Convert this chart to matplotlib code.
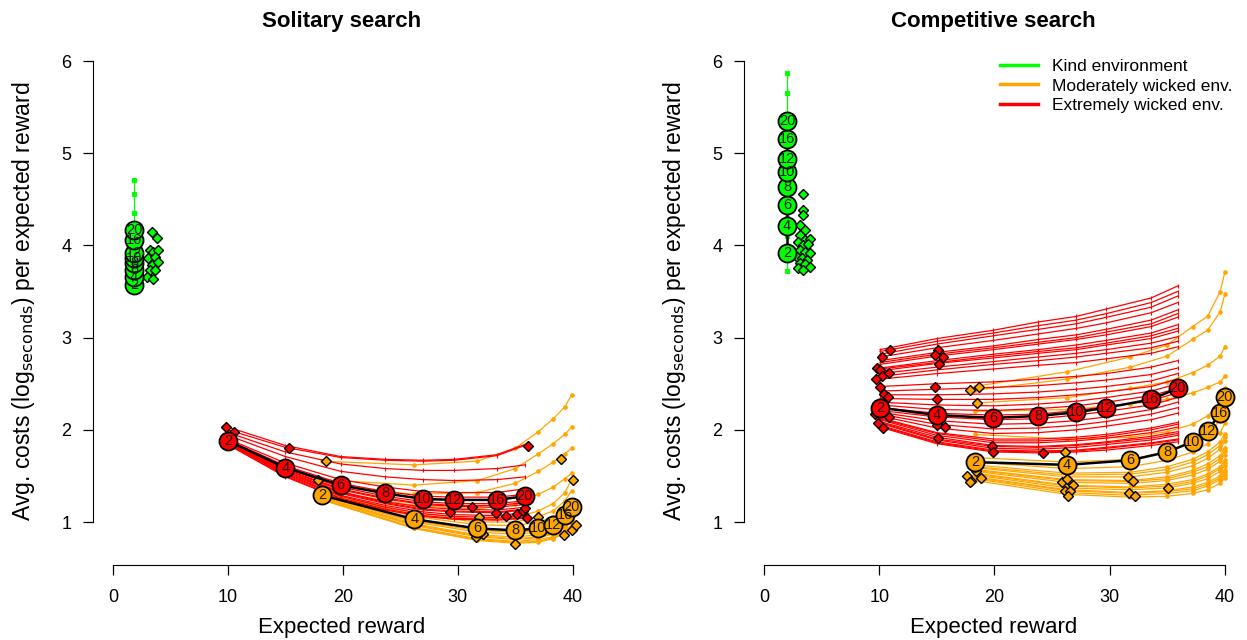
import matplotlib
matplotlib.use("Agg")
import matplotlib.pyplot as plt
from matplotlib.lines import Line2D

plt.rcParams['font.family'] = ['Liberation Sans', 'DejaVu Sans']

# ---------------- data ----------------
sample_sizes = [2, 4, 6, 8, 10, 12, 16, 20]

# Solitary search: mean curves (expected reward, avg cost)
solo_kind_x = [1.83] * 8
solo_kind_y = [3.57, 3.66, 3.73, 3.81, 3.86, 3.92, 4.06, 4.17]
solo_mod_x = [18.2, 26.2, 31.7, 35.0, 37.0, 38.3, 39.3, 39.9]
solo_mod_y = [1.29, 1.03, 0.93, 0.91, 0.93, 0.97, 1.08, 1.16]
solo_ext_x = [10.0, 15.0, 19.8, 23.7, 27.0, 29.7, 33.4, 35.8]
solo_ext_y = [1.88, 1.59, 1.40, 1.31, 1.25, 1.24, 1.24, 1.28]

# Competitive search: mean curves
comp_kind_x = [2.0] * 8
comp_kind_y = [3.92, 4.21, 4.44, 4.63, 4.80, 4.94, 5.15, 5.35]
comp_mod_x = [18.3, 26.3, 31.8, 35.0, 37.2, 38.5, 39.6, 40.0]
comp_mod_y = [1.65, 1.62, 1.67, 1.76, 1.87, 1.99, 2.18, 2.36]
comp_ext_x = [10.07, 15.0, 19.9, 23.8, 27.1, 29.7, 33.6, 35.9]
comp_ext_y = [2.24, 2.16, 2.13, 2.15, 2.19, 2.24, 2.33, 2.45]

# Individual curves (costs at each sample size)
solo_kind_lines = [
    [3.60, 3.75, 3.88, 4.00, 4.12, 4.35, 4.56, 4.71],
    [3.55, 3.62, 3.70, 3.78, 3.85, 3.92, 4.05, 4.18],
    [3.52, 3.58, 3.64, 3.70, 3.76, 3.82, 3.92, 4.02],
]
solo_ext_lines = [
    [2.03, 1.83, 1.71, 1.68, 1.67, 1.68, 1.73, 1.84],
    [2.00, 1.81, 1.70, 1.67, 1.66, 1.67, 1.72, 1.83],
    [1.97, 1.76, 1.63, 1.58, 1.56, 1.56, 1.58, 1.62],
    [1.94, 1.71, 1.55, 1.49, 1.46, 1.45, 1.46, 1.49],
    [1.90, 1.64, 1.46, 1.38, 1.33, 1.32, 1.32, 1.36],
    [1.89, 1.61, 1.42, 1.33, 1.28, 1.27, 1.27, 1.30],
    [1.88, 1.58, 1.38, 1.28, 1.22, 1.20, 1.20, 1.23],
    [1.87, 1.57, 1.36, 1.26, 1.20, 1.18, 1.18, 1.21],
    [1.87, 1.56, 1.35, 1.25, 1.19, 1.17, 1.16, 1.19],
    [1.86, 1.55, 1.33, 1.22, 1.16, 1.14, 1.13, 1.16],
    [1.86, 1.54, 1.32, 1.21, 1.14, 1.12, 1.11, 1.14],
    [1.86, 1.53, 1.31, 1.20, 1.13, 1.11, 1.10, 1.13],
    [1.85, 1.52, 1.29, 1.18, 1.11, 1.08, 1.07, 1.10],
    [1.85, 1.51, 1.28, 1.16, 1.09, 1.06, 1.05, 1.07],
    [1.84, 1.50, 1.26, 1.14, 1.07, 1.04, 1.03, 1.05],
    [1.84, 1.49, 1.25, 1.13, 1.06, 1.03, 1.02, 1.04],
]
solo_mod_lines = [
    [1.66, 1.62, 1.66, 1.80, 1.98, 2.12, 2.25, 2.38],
    [1.46, 1.40, 1.45, 1.58, 1.74, 1.85, 1.95, 2.03],
    [1.40, 1.30, 1.32, 1.42, 1.55, 1.65, 1.74, 1.80],
    [1.35, 1.18, 1.14, 1.20, 1.30, 1.38, 1.47, 1.53],
    [1.32, 1.10, 1.03, 1.05, 1.12, 1.20, 1.32, 1.46],
    [1.31, 1.08, 1.00, 1.00, 1.06, 1.12, 1.23, 1.34],
    [1.30, 1.06, 0.97, 0.96, 1.00, 1.05, 1.14, 1.22],
    [1.29, 1.03, 0.93, 0.91, 0.93, 0.97, 1.06, 1.14],
    [1.28, 1.01, 0.91, 0.89, 0.91, 0.95, 1.03, 1.11],
    [1.28, 1.00, 0.89, 0.87, 0.89, 0.93, 1.01, 1.08],
    [1.27, 0.98, 0.86, 0.84, 0.86, 0.90, 0.97, 1.04],
    [1.26, 0.97, 0.85, 0.82, 0.84, 0.88, 0.95, 1.02],
    [1.26, 0.96, 0.84, 0.81, 0.83, 0.87, 0.94, 1.00],
    [1.25, 0.94, 0.82, 0.79, 0.81, 0.84, 0.91, 0.97],
    [1.24, 0.93, 0.81, 0.78, 0.79, 0.83, 0.89, 0.95],
    [1.24, 0.93, 0.80, 0.77, 0.78, 0.82, 0.88, 0.94],
]
comp_kind_lines = [
    [4.10, 4.45, 4.75, 5.00, 5.20, 5.40, 5.65, 5.87],
    [3.92, 4.21, 4.44, 4.63, 4.80, 4.94, 5.15, 5.35],
    [3.72, 3.95, 4.15, 4.30, 4.45, 4.57, 4.75, 4.90],
]
comp_ext_lines = [
    [2.87, 2.99, 3.08, 3.17, 3.23, 3.31, 3.43, 3.56],
    [2.85, 2.96, 3.05, 3.13, 3.19, 3.26, 3.38, 3.50],
    [2.82, 2.93, 3.02, 3.09, 3.15, 3.22, 3.33, 3.45],
    [2.79, 2.89, 2.97, 3.04, 3.10, 3.16, 3.27, 3.38],
    [2.75, 2.84, 2.91, 2.98, 3.03, 3.09, 3.19, 3.30],
    [2.73, 2.82, 2.89, 2.95, 3.00, 3.06, 3.15, 3.26],
    [2.71, 2.80, 2.87, 2.93, 2.98, 3.03, 3.12, 3.22],
    [2.67, 2.75, 2.82, 2.87, 2.92, 2.97, 3.05, 3.14],
    [2.66, 2.73, 2.80, 2.85, 2.89, 2.94, 3.02, 3.10],
    [2.64, 2.72, 2.78, 2.83, 2.87, 2.92, 2.99, 3.07],
    [2.61, 2.68, 2.74, 2.79, 2.83, 2.87, 2.94, 3.01],
    [2.58, 2.65, 2.71, 2.75, 2.79, 2.83, 2.89, 2.96],
    [2.55, 2.61, 2.66, 2.70, 2.73, 2.77, 2.83, 2.90],
    [2.47, 2.50, 2.52, 2.55, 2.58, 2.61, 2.68, 2.75],
    [2.42, 2.44, 2.46, 2.48, 2.51, 2.54, 2.60, 2.67],
    [2.38, 2.38, 2.39, 2.41, 2.44, 2.47, 2.53, 2.61],
    [2.34, 2.33, 2.33, 2.35, 2.38, 2.41, 2.47, 2.55],
    [2.30, 2.27, 2.26, 2.28, 2.31, 2.35, 2.42, 2.50],
    [2.27, 2.22, 2.21, 2.23, 2.26, 2.30, 2.37, 2.45],
    [2.24, 2.18, 2.16, 2.17, 2.21, 2.25, 2.32, 2.40],
    [2.21, 2.14, 2.11, 2.12, 2.16, 2.20, 2.27, 2.35],
    [2.19, 2.10, 2.06, 2.07, 2.10, 2.14, 2.22, 2.30],
    [2.17, 2.06, 2.01, 2.02, 2.05, 2.09, 2.17, 2.24],
    [2.15, 2.02, 1.96, 1.97, 2.00, 2.04, 2.11, 2.18],
    [2.13, 1.97, 1.90, 1.90, 1.92, 1.95, 2.02, 2.08],
    [2.12, 1.96, 1.88, 1.88, 1.90, 1.93, 2.00, 2.06],
    [2.11, 1.94, 1.86, 1.86, 1.88, 1.91, 1.97, 2.03],
    [2.09, 1.92, 1.83, 1.82, 1.84, 1.87, 1.93, 1.98],
    [2.08, 1.90, 1.82, 1.81, 1.83, 1.86, 1.91, 1.96],
    [2.07, 1.89, 1.80, 1.79, 1.81, 1.84, 1.89, 1.94],
    [2.05, 1.87, 1.78, 1.77, 1.78, 1.81, 1.86, 1.90],
    [2.04, 1.86, 1.77, 1.76, 1.77, 1.80, 1.85, 1.89],
    [2.03, 1.85, 1.76, 1.75, 1.76, 1.78, 1.83, 1.87],
]
comp_mod_lines = [
    [2.47, 2.63, 2.79, 2.92, 3.12, 3.23, 3.50, 3.71],
    [2.43, 2.55, 2.68, 2.80, 2.98, 3.08, 3.28, 3.47],
    [2.29, 2.35, 2.45, 2.52, 2.62, 2.70, 2.80, 2.90],
    [2.20, 2.22, 2.28, 2.33, 2.40, 2.46, 2.52, 2.58],
    [1.95, 1.90, 1.92, 1.98, 2.06, 2.15, 2.30, 2.45],
    [1.70, 1.65, 1.68, 1.76, 1.87, 1.97, 2.10, 2.20],
    [1.65, 1.58, 1.60, 1.67, 1.76, 1.85, 1.97, 2.07],
    [1.62, 1.53, 1.54, 1.60, 1.68, 1.76, 1.87, 1.96],
    [1.60, 1.51, 1.52, 1.57, 1.65, 1.73, 1.83, 1.92],
    [1.59, 1.49, 1.49, 1.54, 1.61, 1.69, 1.79, 1.88],
    [1.57, 1.46, 1.45, 1.49, 1.56, 1.63, 1.72, 1.80],
    [1.56, 1.45, 1.44, 1.47, 1.54, 1.60, 1.69, 1.77],
    [1.55, 1.43, 1.42, 1.45, 1.51, 1.57, 1.66, 1.73],
    [1.53, 1.40, 1.38, 1.41, 1.46, 1.52, 1.60, 1.67],
    [1.52, 1.39, 1.37, 1.39, 1.44, 1.50, 1.58, 1.64],
    [1.51, 1.37, 1.35, 1.37, 1.42, 1.47, 1.55, 1.61],
    [1.49, 1.35, 1.32, 1.34, 1.38, 1.43, 1.50, 1.56],
    [1.48, 1.34, 1.31, 1.33, 1.36, 1.41, 1.48, 1.54],
    [1.47, 1.32, 1.29, 1.31, 1.34, 1.39, 1.46, 1.51],
    [1.45, 1.30, 1.27, 1.28, 1.31, 1.35, 1.42, 1.48],
]

# Observed (diamond) points
solo_kind_dx = [3.36, 3.80, 3.22, 3.51, 3.94, 3.07, 3.65, 3.36, 3.94, 3.22, 3.65, 2.92, 3.51]
solo_kind_dy = [4.15, 4.08, 3.95, 3.93, 3.95, 3.86, 3.88, 3.79, 3.82, 3.73, 3.73, 3.66, 3.64]
solo_mod_dx = [18.5, 17.85, 39.0, 40.0, 31.6, 32.2, 35.0, 37.0, 39.2, 39.9, 40.3, 31.8, 38.9]
solo_mod_dy = [1.66, 1.46, 1.68, 1.46, 0.84, 0.87, 0.76, 1.06, 0.86, 0.91, 0.97, 1.05, 1.00]
solo_ext_dx = [9.83, 10.5, 15.3, 36.1, 31.2, 33.3, 29.3, 34.2, 35.1, 35.7, 36.0, 35.8]
solo_ext_dy = [2.03, 1.98, 1.80, 1.83, 1.16, 1.10, 1.11, 1.07, 1.09, 1.12, 1.04, 1.15]

comp_kind_dx = [3.41, 3.41, 3.36, 3.13, 3.56, 3.13, 3.56, 3.99, 2.98, 3.41, 3.85, 3.13, 3.56,
                3.99, 2.84, 3.27, 3.71, 3.13, 3.56, 3.99, 2.98, 3.41]
comp_kind_dy = [4.56, 4.38, 4.33, 4.22, 4.17, 4.11, 4.06, 4.07, 4.04, 4.00, 4.02, 3.95, 3.93,
                3.92, 3.88, 3.86, 3.84, 3.81, 3.80, 3.77, 3.75, 3.73]
comp_mod_dx = [17.9, 18.7, 18.5, 17.6, 18.0, 18.4, 18.8, 17.9, 18.3, 26.1, 25.9, 26.3, 26.8,
               26.1, 26.6, 26.4, 31.6, 32.0, 31.7, 32.2, 35.1]
comp_mod_dy = [2.43, 2.47, 2.29, 1.50, 1.45, 1.55, 1.48, 1.43, 1.60, 1.76, 1.43, 1.47, 1.40,
               1.34, 1.34, 1.28, 1.49, 1.45, 1.32, 1.28, 1.37]
comp_ext_dx = [10.94, 10.2, 9.77, 10.1, 10.87, 10.2, 9.7, 10.1, 10.4, 10.8, 9.6, 10.87, 9.9, 10.3,
               15.13, 14.84, 15.5, 15.2, 14.84, 15.0, 15.0, 15.7, 15.1, 19.8, 19.9, 24.2]
comp_ext_dy = [2.87, 2.79, 2.67, 2.65, 2.62, 2.58, 2.55, 2.46, 2.39, 2.36, 2.17, 2.14, 2.07, 2.02,
               2.87, 2.81, 2.79, 2.71, 2.47, 2.33, 2.05, 2.03, 1.91, 1.82, 1.76, 1.75]

env_labels = ["Kind environment", "Moderately wicked env.", "Extremely wicked env."]
panel_titles = ["Solitary search", "Competitive search"]
x_ticks = [0, 10, 20, 30, 40]
y_ticks = [1, 2, 3, 4, 5, 6]

GREEN, ORANGE, RED = "#00FF00", "#FFA500", "#FF0000"

# ---------------- drawing ----------------
fig = plt.figure(figsize=(12.47, 6.40), dpi=100)
W, H = 1247, 640
ax1 = fig.add_axes([93 / W, 75 / H, 498 / W, 527 / H])
ax2 = fig.add_axes([744 / W, 75 / H, 499 / W, 527 / H])


def draw_panel(ax, title, groups):
    # groups: list of (color, mean_x, mean_y, lines, dx, dy, marker)
    for color, mx, my, lines, dx, dy, mk in groups:
        for ly in lines:
            ax.plot(mx, ly, color=color, lw=0.9, marker=mk, ms=2.5, mew=0.8, zorder=2)
    for color, mx, my, lines, dx, dy, mk in groups:
        ax.plot(dx, dy, linestyle='none', marker='D', ms=5, mfc=color, mec='black',
                mew=1.0, zorder=3)
    for color, mx, my, lines, dx, dy, mk in groups:
        ax.plot(mx, my, color='black', lw=1.8, zorder=4)
        ax.plot(mx, my, linestyle='none', marker='o', ms=13, mfc=color, mec='black',
                mew=1.3, zorder=5)
        for xx, yy, n in zip(mx, my, sample_sizes):
            ax.text(xx, yy, str(n), ha='center', va='center', fontsize=10.5,
                    color='#1a1a1a', zorder=6)

    ax.set_xlim(-1.74, 41.58)
    ax.set_ylim(0.534, 6.25)
    for s in ('top', 'right'):
        ax.spines[s].set_visible(False)
    ax.spines['left'].set_bounds(1, 6)
    ax.spines['bottom'].set_bounds(0, 40)
    ax.set_xticks(x_ticks)
    ax.set_yticks(y_ticks)
    ax.tick_params(direction='out', length=7.5, labelsize=13, width=0.9)
    ax.tick_params(axis='x', pad=10)
    ax.tick_params(axis='y', pad=8)
    ax.set_xlabel("Expected reward", fontsize=16)
    ax.set_ylabel(r"Avg. costs (log$_{\mathrm{seconds}}$) per expected reward", fontsize=16.5)
    ax.xaxis.set_label_coords(0.5, -0.098)
    ax.yaxis.set_label_coords(-0.113, 0.5)
    ax.text(0.5, 1.031, title, transform=ax.transAxes, ha='center', va='center',
            fontsize=16, fontweight='bold')


draw_panel(ax1, panel_titles[0], [
    (ORANGE, solo_mod_x, solo_mod_y, solo_mod_lines, solo_mod_dx, solo_mod_dy, 'o'),
    (RED, solo_ext_x, solo_ext_y, solo_ext_lines, solo_ext_dx, solo_ext_dy, '|'),
    (GREEN, solo_kind_x, solo_kind_y, solo_kind_lines, solo_kind_dx, solo_kind_dy, 's'),
])
draw_panel(ax2, panel_titles[1], [
    (ORANGE, comp_mod_x, comp_mod_y, comp_mod_lines, comp_mod_dx, comp_mod_dy, 'o'),
    (RED, comp_ext_x, comp_ext_y, comp_ext_lines, comp_ext_dx, comp_ext_dy, '|'),
    (GREEN, comp_kind_x, comp_kind_y, comp_kind_lines, comp_kind_dx, comp_kind_dy, 's'),
])

handles = [Line2D([0], [0], color=c, lw=2.5) for c in (GREEN, ORANGE, RED)]
ax2.legend(handles, env_labels, loc='upper left', bbox_to_anchor=(0.482, 0.99),
           frameon=False, fontsize=12.5, handlelength=2.2, labelspacing=0.25,
           handletextpad=0.8)

fig.savefig("out.png", dpi=100)
